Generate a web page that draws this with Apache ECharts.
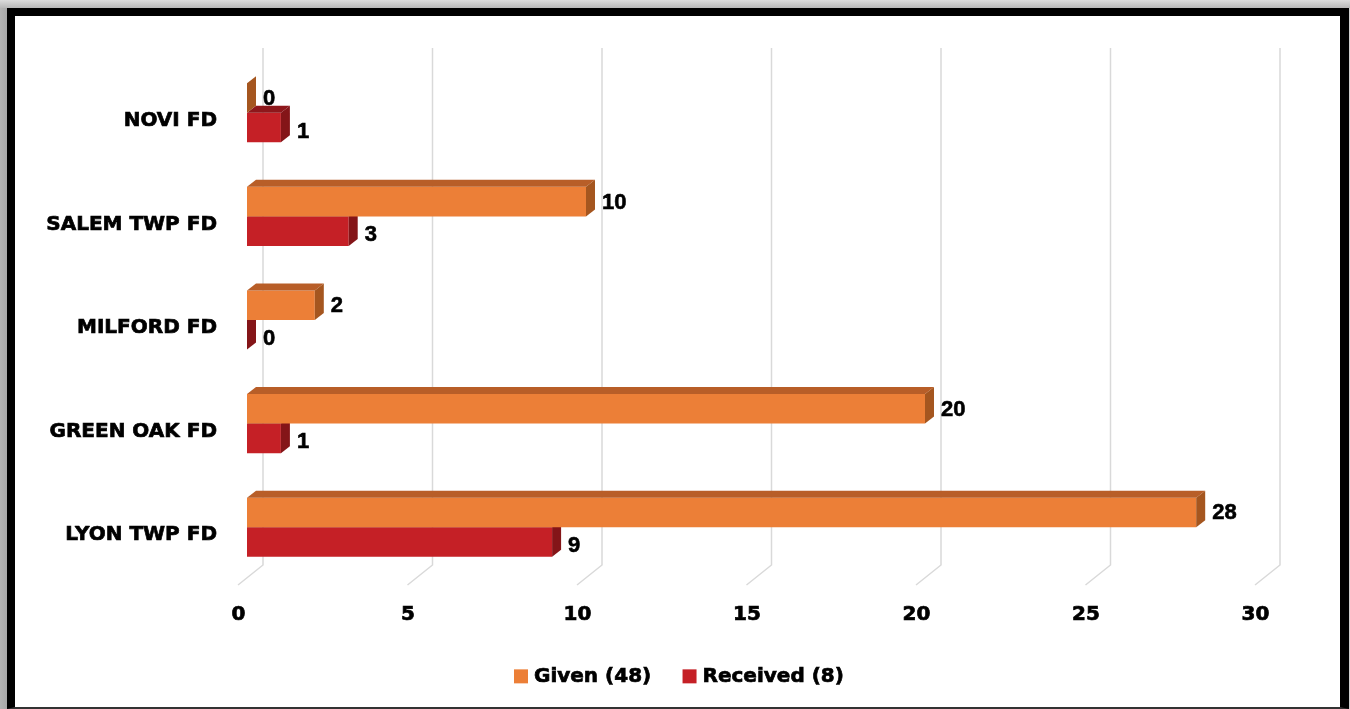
<!DOCTYPE html>
<html>
<head>
<meta charset="utf-8">
<script src="https://cdn.jsdelivr.net/npm/echarts@6/dist/echarts.min.js"></script>
<style>
  html, body { margin: 0; padding: 0; width: 1350px; height: 709px; overflow: hidden;
    background: linear-gradient(to right, #b4b4b4 0px, #a8a8a8 7px, #d0d0d0 7px); }
  #bg { position: absolute; left: 0; top: 0; width: 1350px; height: 8px;
    background: linear-gradient(to bottom, #dcdcdc, #b8b8b8); }
  #frame { position: absolute; left: 7px; top: 8px; width: 1325px; height: 691px;
    background: #fff; border-left: 8px solid #000; border-top: 8px solid #000;
    border-right: 9px solid #000; border-bottom: 2px solid #333; }
  #chart { position: absolute; left: 0; top: 0; width: 1350px; height: 709px; }
</style>
</head>
<body>
<div id="bg"></div>
<div id="frame"></div>
<div id="chart"></div>
<script>
// ---- data ----
const categories = ['NOVI FD', 'SALEM TWP FD', 'MILFORD FD', 'GREEN OAK FD', 'LYON TWP FD'];
const givenValues = [0, 10, 2, 20, 28];
const receivedValues = [1, 3, 0, 1, 9];
const seriesNames = ['Given (48)', 'Received (8)'];
const xTicks = [0, 5, 10, 15, 20, 25, 30];

// ---- styles ----
const ORANGE = { front: '#EC7F37', top: '#B85E28', side: '#A5561F' };
const RED = { front: '#C52026', top: '#8E171B', side: '#841518' };
const DX = 9, DY = -7;
const HEAVY = { textBorderColor: '#000', textBorderWidth: 0.7 };

function barRenderer(colors, upper) {
  return function (params, api) {
    const v = api.value(0);
    const cat = api.value(1);
    const p0 = api.coord([0, cat]);
    const p1 = api.coord([v, cat]);
    const band = api.size([0, 1])[1];
    const h = band * 0.285;
    const x0 = p0[0], x1 = p1[0];
    const y0 = upper ? p0[1] - h : p0[1];
    const y1 = y0 + h;
    const children = [];
    if (x1 > x0) {
      children.push({ type: 'rect', shape: { x: x0, y: y0, width: x1 - x0, height: h },
        style: { fill: colors.front } });
      children.push({ type: 'polygon', shape: { points: [[x0, y0], [x0 + DX, y0 + DY], [x1 + DX, y0 + DY], [x1, y0]] },
        style: { fill: colors.top } });
    }
    children.push({ type: 'polygon', shape: { points: [[x1, y0], [x1 + DX, y0 + DY], [x1 + DX, y1 + DY], [x1, y1]] },
      style: { fill: colors.side } });
    children.push({ type: 'text', style: { x: x1 + DX + 7, y: (y0 + y1) / 2 + (upper ? 1 : 4), text: String(v),
      fontFamily: '"Liberation Sans", Arial, sans-serif', fontWeight: 'bold', fontSize: 22,
      fill: '#000', stroke: '#000', lineWidth: 0.6, align: 'left', verticalAlign: 'middle' } });
    return { type: 'group', children: children };
  };
}

function gridRenderer(params, api) {
  const v = api.value(0);
  const p = api.coord([v, 0]);
  const cs = params.coordSys;
  const bx = p[0] + 16;
  const topY = cs.y - 13;
  const backBottom = cs.y + cs.height - 14;
  const frontY = cs.y + cs.height + 6;
  return {
    type: 'polyline',
    shape: { points: [[bx, topY], [bx, backBottom], [p[0] - 9, frontY]] },
    style: { stroke: '#d9d9d9', lineWidth: 1.5, fill: null }
  };
}

const chart = echarts.init(document.getElementById('chart'), null, { renderer: 'canvas' });
chart.setOption({
  backgroundColor: 'transparent',
  animation: false,
  grid: { left: 247, top: 61, width: 1017, height: 518 },
  legend: {
    left: 514, top: 666, padding: 0,
    itemWidth: 14, itemHeight: 14, itemGap: 31, icon: 'rect',
    textStyle: Object.assign({ fontFamily: '"DejaVu Sans", sans-serif', fontWeight: 'bold', fontSize: 20, color: '#000', padding: [0, 0, 0, 1] }, HEAVY),
    data: [
      { name: seriesNames[0], itemStyle: { color: ORANGE.front } },
      { name: seriesNames[1], itemStyle: { color: RED.front } }
    ]
  },
  xAxis: {
    type: 'value', min: 0, max: 30, interval: 5,
    axisLine: { show: false }, axisTick: { show: false }, splitLine: { show: false },
    axisLabel: Object.assign({ margin: 26, padding: [0, 17, 0, 0], fontFamily: '"DejaVu Sans", sans-serif',
      fontWeight: 'bold', fontSize: 20, color: '#000' }, HEAVY)
  },
  yAxis: {
    type: 'category', data: categories, inverse: true,
    axisLine: { show: false }, axisTick: { show: false }, splitLine: { show: false },
    axisLabel: Object.assign({ margin: 30, verticalAlign: 'top', lineHeight: 16, fontFamily: '"DejaVu Sans", sans-serif',
      fontWeight: 'bold', fontSize: 20, color: '#000' }, HEAVY)
  },
  series: [
    {
      type: 'custom', name: 'grid', silent: true, z: 1,
      renderItem: gridRenderer,
      encode: { x: 0, y: 1 },
      data: xTicks.map(t => [t, 0])
    },
    {
      type: 'custom', name: seriesNames[1], z: 2,
      itemStyle: { color: RED.front },
      renderItem: barRenderer(RED, false),
      encode: { x: 0, y: 1 },
      data: receivedValues.map((v, i) => [v, i])
    },
    {
      type: 'custom', name: seriesNames[0], z: 3,
      itemStyle: { color: ORANGE.front },
      renderItem: barRenderer(ORANGE, true),
      encode: { x: 0, y: 1 },
      data: givenValues.map((v, i) => [v, i])
    }
  ]
});
</script>
</body>
</html>
